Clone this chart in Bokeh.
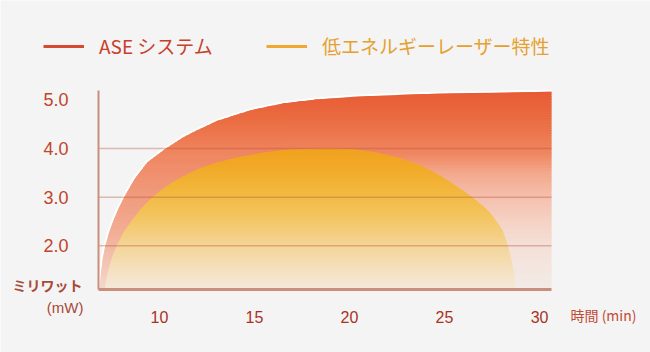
import numpy as np
from bokeh.plotting import figure
from bokeh.models import Range1d, Legend, LegendItem
from bokeh.core.properties import value
from bokeh.embed import file_html
from bokeh.resources import INLINE

# ---------------- data ----------------
x_ticks = [10, 15, 20, 25, 30]
y_ticks = [2.0, 3.0, 4.0, 5.0]
grid_values = [2.0, 3.0, 4.0]

ase_x = [6.85, 6.92, 7.02, 7.15, 7.35, 7.58, 7.85, 8.14, 8.7, 9.37, 10.33, 11.28,
         12.0, 13.04, 14.8, 16.5, 18.3, 20.05, 21.8, 23.7, 25.5, 27.5, 29.0, 30.63]
ase_y = [1.10, 1.45, 1.75, 2.00, 2.28, 2.52, 2.77, 3.00, 3.38, 3.72, 4.00, 4.24,
         4.38, 4.57, 4.79, 4.93, 5.01, 5.06, 5.09, 5.12, 5.14, 5.15, 5.16, 5.17]

low_x = [7.12, 7.2, 7.35, 7.52, 7.75, 8.1, 8.49, 9.0, 9.63, 10.2, 10.78, 11.5,
         12.16, 13.0, 13.9, 14.8, 15.67, 16.5, 17.4, 18.3, 19.2, 20.05, 21.3, 22.68,
         23.7, 24.8, 25.8, 26.4, 26.9, 27.3, 27.6, 28.05, 28.3, 28.5, 28.65, 28.75]
low_y = [1.10, 1.30, 1.55, 1.78, 2.00, 2.27, 2.49, 2.75, 3.00, 3.18, 3.33, 3.48,
         3.60, 3.71, 3.80, 3.87, 3.93, 3.97, 3.99, 4.00, 4.00, 3.99, 3.93, 3.80,
         3.66, 3.44, 3.18, 3.02, 2.86, 2.72, 2.58, 2.32, 2.05, 1.75, 1.45, 1.10]

series_names = ["ASE システム", "低エネルギーレーザー特性"]
y_unit_lines = ["ミリワット", "(mW)"]
x_unit = "時間 (min)"

# ---------------- layout / style ----------------
W, H = 650, 352
# plot box (data): x from X0 to X_END, y from Y0 to Y_TOP
X0, X_END = 6.79, 30.63
Y0, Y_TOP = 1.10, 5.195
FRAME_L, FRAME_R, FRAME_T, FRAME_B = 98, 551, 90, 289   # pixel box of the plot area
sx = (X_END - X0) / (FRAME_R - FRAME_L)
sy = (Y_TOP - Y0) / (FRAME_B - FRAME_T)
XR = (X0 - FRAME_L * sx, X_END + (W - FRAME_R) * sx)
YR = (Y0 - (H - FRAME_B) * sy, Y_TOP + FRAME_T * sy)

BG = "#f4f4f4"
JP = "Noto Sans CJK JP"
NUM = "Liberation Sans"
AXIS_COL = "#c8907c"

red_left_stops = [(1.1, "#f4d8cc"), (1.6, "#f3c6b6"), (2.2, "#f2b098"), (2.8, "#f1a084"),
                  (3.4, "#f09272"), (3.9, "#ef8660"), (4.6, "#eb6c42"), (5.2, "#e65a34")]
red_right_stops = [(1.1, "#f3ebe7"), (2.0, "#f4e0d8"), (2.5, "#f5d2c4"), (3.0, "#f5c0ae"),
                   (3.5, "#f3a88c"), (3.9, "#ef8660"), (4.6, "#eb6c42"), (5.2, "#e65a34")]
low_stops = [(1.1, "#f5e8dc"), (1.6, "#f5dfb8"), (2.1, "#f4d28e"), (2.6, "#f3c560"),
             (3.1, "#f2b83e"), (3.6, "#f1aa28"), (4.05, "#f0a01e")]


def hex_rgb(h):
    h = h.lstrip("#")
    return np.array([int(h[i:i + 2], 16) for i in (0, 2, 4)], float)


def grad(stops, y):
    ys = [s[0] for s in stops]
    cols = np.array([hex_rgb(s[1]) for s in stops])
    c = [np.interp(y, ys, cols[:, k]) for k in range(3)]
    return "#%02x%02x%02x" % tuple(int(round(v)) for v in c)


def clip_band(xs, ys, lo, hi):
    """Exact clip of the polyline (xs, ys) to the band lo..hi."""
    xs = np.asarray(xs, float)
    ys = np.asarray(ys, float)
    extra = []
    for L in (lo, hi):
        for i in range(len(xs) - 1):
            ya, yb = ys[i], ys[i + 1]
            if (ya - L) * (yb - L) < 0:
                extra.append(xs[i] + (L - ya) * (xs[i + 1] - xs[i]) / (yb - ya))
    xr = np.unique(np.concatenate([xs, np.array(extra, float)]))
    yr = np.interp(xr, xs, ys)
    return xr, np.clip(yr, lo, hi)


p = figure(width=W, height=H, output_backend="svg", toolbar_location=None,
           x_range=Range1d(*XR), y_range=Range1d(*YR),
           x_axis_location=None, y_axis_location=None,
           min_border=0)
p.background_fill_color = BG
p.border_fill_color = BG
p.outline_line_color = None
p.xgrid.visible = False
p.ygrid.visible = False

# white halo along the ASE curve
p.line(ase_x, ase_y, line_color="white", line_width=4)

h = 0.05
edges = np.arange(Y0, 5.25, h)

split = ase_x.index(16.5)
red_parts = [(ase_x[:split + 2], ase_y[:split + 2], red_left_stops),
             (ase_x[split:], ase_y[split:], red_right_stops)]
for xs, ys, stops in red_parts:
    for a in edges:
        if max(ys) <= a:
            continue
        xr, top = clip_band(xs, ys, a, a + 1.6 * h)
        p.varea(x=xr, y1=a, y2=top, fill_color=grad(stops, a + h / 2))

for a in edges:
    if max(low_y) <= a:
        continue
    xr, top = clip_band(low_x, low_y, a, a + 1.6 * h)
    p.varea(x=xr, y1=a, y2=top, fill_color=grad(low_stops, a + h / 2))

# horizontal grid lines
p.segment(x0=[X0] * len(grid_values), x1=[X_END] * len(grid_values),
          y0=grid_values, y1=grid_values, line_color="#b8583c", line_alpha=0.38,
          line_width=1.5)

# axis lines
p.segment(x0=[X0], x1=[X0], y0=[Y0], y1=[Y_TOP], line_color=AXIS_COL, line_width=2)
p.segment(x0=[X0], x1=[X_END], y0=[Y0], y1=[Y0], line_color=AXIS_COL, line_width=3)

# tick labels
p.text(x=x_ticks, y=[Y0] * len(x_ticks), text=[str(t) for t in x_ticks],
       y_offset=27, text_align="center", text_baseline="middle",
       text_font=value(NUM), text_font_size="16px", text_color="#a8321e")
p.text(x=[X0] * len(y_ticks), y=y_ticks, text=["%.1f" % t for t in y_ticks],
       x_offset=-30, text_align="right", text_baseline="middle",
       text_font=value(NUM), text_font_size="18px", text_color="#c0442c")

# unit labels
p.text(x=[X0], y=[Y0], text=[y_unit_lines[0]], x_offset=-16, y_offset=-5,
       text_align="right", text_baseline="middle", text_font=value(JP),
       text_font_size="14px", text_font_style="bold", text_color="#a84a3a")
p.text(x=[X0], y=[Y0], text=[y_unit_lines[1]], x_offset=-15, y_offset=18,
       text_align="right", text_baseline="middle", text_font=value(NUM),
       text_font_size="15px", text_color="#a84a3a")
p.text(x=[X_END], y=[Y0], text=[x_unit], x_offset=19, y_offset=25,
       text_align="left", text_baseline="middle", text_font=value(JP),
       text_font_size="14px", text_color="#c04a35")

# legend: one-point lines (invisible on the chart) give the legend its glyphs
leg_red = p.line(x=ase_x[:1], y=ase_y[:1], line_color="#d84a30", line_width=3)
leg_org = p.line(x=low_x[:1], y=low_y[:1], line_color="#f0a830", line_width=3)
for rend, name, col, loc in [(leg_red, series_names[0], "#c8402a", (43, 293)),
                             (leg_org, series_names[1], "#e6a030", (266, 293))]:
    lg = Legend(items=[LegendItem(label=name, renderers=[rend])], location=loc,
                orientation="horizontal", glyph_width=41, glyph_height=20,
                label_height=20, label_standoff=15, label_text_font=JP,
                label_text_font_size="19px", label_text_color=col,
                background_fill_alpha=0, border_line_alpha=0, padding=0, margin=0)
    p.add_layout(lg, "center")

open("out.html", "w").write(file_html(p, INLINE))
